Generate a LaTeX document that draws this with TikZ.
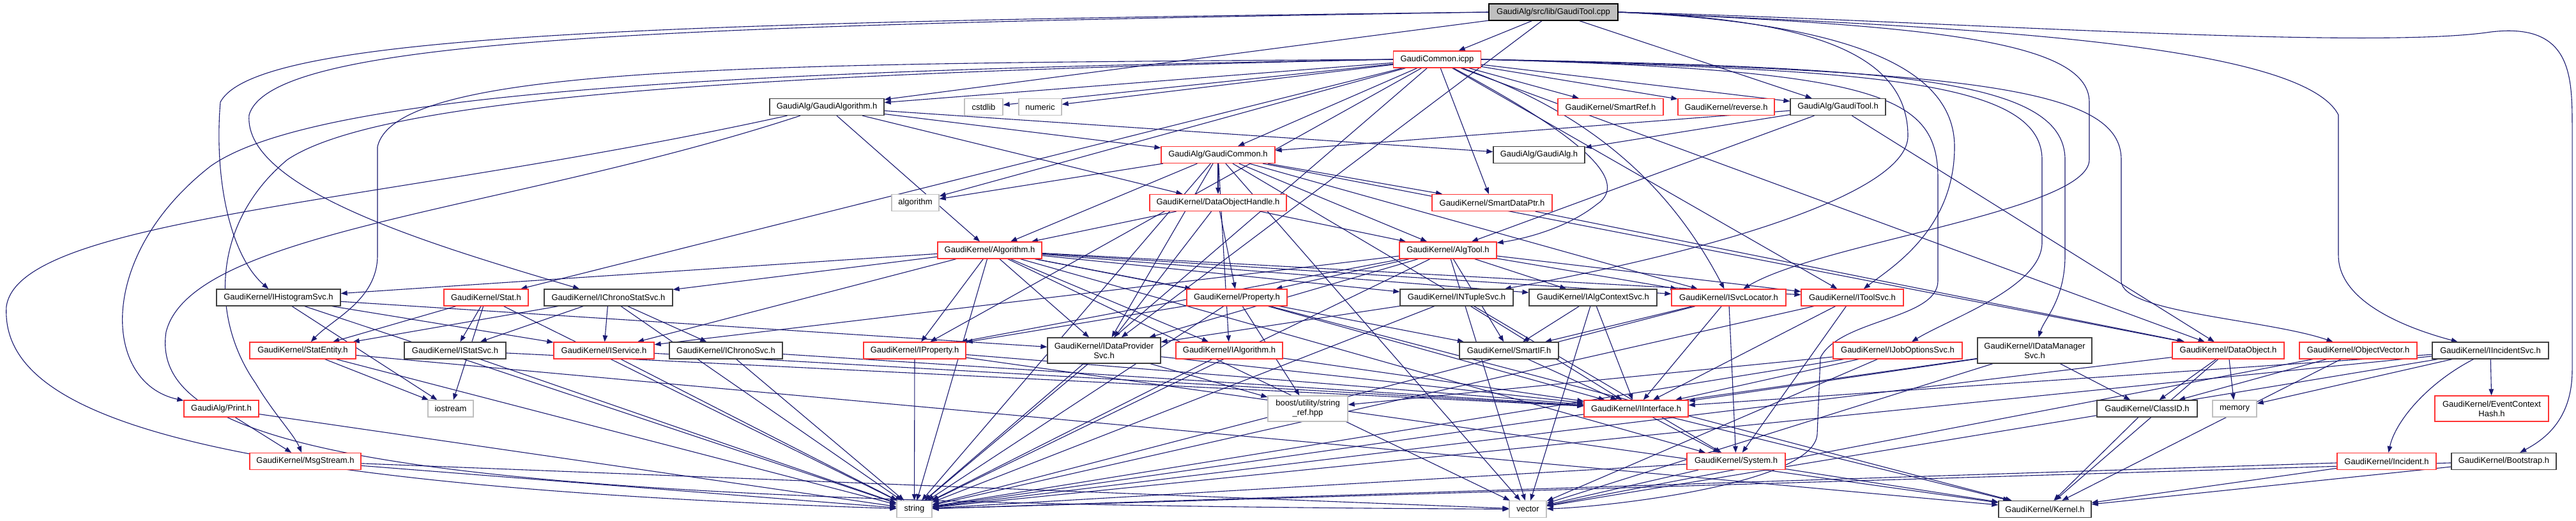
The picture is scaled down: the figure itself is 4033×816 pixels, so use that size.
\documentclass[tikz,border=0pt]{standalone}
\usepackage{fontspec}
\setmainfont{Liberation Sans}
\usetikzlibrary{arrows.meta}
\pgfdeclarelayer{back}
\pgfdeclarelayer{bg}
\pgfsetlayers{back,bg,main}
\definecolor{edgec}{HTML}{191970}
\definecolor{redc}{HTML}{FF3333}
\definecolor{blkc}{HTML}{404040}
\definecolor{grayc}{HTML}{BFBFBF}
\definecolor{rootfill}{HTML}{BFBFBF}
\newcommand\mknode[6]{\node[#2,minimum width=#5pt] (#1) at (#3,#4) {#6};}
\newcommand\deplinks[2]{\foreach \t in {#2} {\draw[edge] (#1) -- (\t);}}
\begin{document}
\begin{tikzpicture}[x=1pt,y=-1pt,
  base/.style={rectangle, line width=1.3pt, minimum height=26pt, inner xsep=2pt, inner ysep=1pt,
    font=\fontsize{13}{15}\selectfont, align=center, fill=white},
  redbox/.style={base, draw=redc},
  blkbox/.style={base, draw=blkc},
  sysbox/.style={base, draw=grayc},
  rootbox/.style={base, draw=black, fill=rootfill},
  tall/.style={minimum height=40pt},
  edge/.style={draw=edgec, line width=1.1pt, -{Triangle[length=10pt,width=7.5pt]}}]
\useasboundingbox (0,0) rectangle (4033,816);
\begin{pgfonlayer}{back}
\fill[white] (0,0) rectangle (4033,816);
\end{pgfonlayer}
% nodes
\mknode{cpp}{rootbox}{2432}{19}{202}{GaudiAlg/src/lib/GaudiTool.cpp}
\mknode{icpp}{redbox}{2250}{93}{137}{GaudiCommon.icpp}
\mknode{galgoh}{blkbox}{1294.5}{167.5}{179}{GaudiAlg/GaudiAlgorithm.h}
\mknode{cstdlib}{sysbox}{1540}{167.5}{60}{cstdlib}
\mknode{numeric}{sysbox}{1628.5}{167.5}{67}{numeric}
\mknode{smartref}{redbox}{2521.5}{167.5}{165}{GaudiKernel/SmartRef.h}
\mknode{reverse}{redbox}{2702.5}{167.5}{151}{GaudiKernel/reverse.h}
\mknode{gtoolh}{blkbox}{2877.5}{167.5}{149}{GaudiAlg/GaudiTool.h}
\mknode{gcommonh}{redbox}{1907}{242.5}{178}{GaudiAlg/GaudiCommon.h}
\mknode{galgh}{blkbox}{2409.5}{242.5}{143}{GaudiAlg/GaudiAlg.h}
\mknode{algorithm}{sysbox}{1433}{317.5}{74}{algorithm}
\mknode{dataobjhandle}{redbox}{1907}{317.5}{214}{GaudiKernel/DataObjectHandle.h}
\mknode{smartdataptr}{redbox}{2336}{317.5}{188}{GaudiKernel/SmartDataPtr.h}
\mknode{algorithmh}{redbox}{1549.5}{392}{163}{GaudiKernel/Algorithm.h}
\mknode{algtool}{redbox}{2267}{392}{152}{GaudiKernel/AlgTool.h}
\mknode{ihist}{blkbox}{436}{466}{194}{GaudiKernel/IHistogramSvc.h}
\mknode{stat}{redbox}{761}{466}{132}{GaudiKernel/Stat.h}
\mknode{ichronostat}{blkbox}{952.5}{466}{201}{GaudiKernel/IChronoStatSvc.h}
\mknode{property}{redbox}{1936.5}{466}{157}{GaudiKernel/Property.h}
\mknode{intuple}{blkbox}{2280.5}{466}{177}{GaudiKernel/INTupleSvc.h}
\mknode{ialgctx}{blkbox}{2494}{466}{200}{GaudiKernel/IAlgContextSvc.h}
\mknode{isvcloc}{redbox}{2706.5}{466}{179}{GaudiKernel/ISvcLocator.h}
\mknode{itoolsvc}{redbox}{2900}{466}{160}{GaudiKernel/IToolSvc.h}
\mknode{statentity}{redbox}{474}{549}{166}{GaudiKernel/StatEntity.h}
\mknode{istatsvc}{blkbox}{712.5}{549}{159}{GaudiKernel/IStatSvc.h}
\mknode{iservice}{redbox}{945.5}{549}{157}{GaudiKernel/IService.h}
\mknode{ichronosvc}{blkbox}{1136.5}{549}{177}{GaudiKernel/IChronoSvc.h}
\mknode{iproperty}{redbox}{1432}{549}{160}{GaudiKernel/IProperty.h}
\mknode{idataprov}{blkbox,tall}{1728.5}{549}{177}{GaudiKernel/IDataProvider\\Svc.h}
\mknode{ialgorithm}{redbox}{1924.5}{549}{167}{GaudiKernel/IAlgorithm.h}
\mknode{smartif}{blkbox}{2362.5}{549}{155}{GaudiKernel/SmartIF.h}
\mknode{ijobopt}{redbox}{2971}{549}{202}{GaudiKernel/IJobOptionsSvc.h}
\mknode{idatamgr}{blkbox,tall}{3185.5}{549}{179}{GaudiKernel/IDataManager\\Svc.h}
\mknode{dataobject}{redbox}{3488.5}{549}{175}{GaudiKernel/DataObject.h}
\mknode{objvector}{redbox}{3692}{549}{184}{GaudiKernel/ObjectVector.h}
\mknode{iincident}{blkbox}{3899}{549}{182}{GaudiKernel/IIncidentSvc.h}
\mknode{printh}{redbox}{346.5}{640}{117}{GaudiAlg/Print.h}
\mknode{iostream}{sysbox}{705.5}{640}{71}{iostream}
\mknode{boost}{sysbox,tall}{2047.5}{640}{125}{boost/utility/string\\\_ref.hpp}
\mknode{iinterface}{redbox}{2561.5}{640}{163}{GaudiKernel/IInterface.h}
\mknode{classid}{blkbox}{3361.5}{640}{157}{GaudiKernel/ClassID.h}
\mknode{memory}{sysbox}{3498.5}{640}{69}{memory}
\mknode{evctxhash}{redbox,tall}{3901}{640}{178}{GaudiKernel/EventContext\\Hash.h}
\mknode{msgstream}{redbox}{478}{722.5}{174}{GaudiKernel/MsgStream.h}
\mknode{systemh}{redbox}{2718}{722.5}{154}{GaudiKernel/System.h}
\mknode{incident}{redbox}{3736.5}{722.5}{155}{GaudiKernel/Incident.h}
\mknode{bootstrap}{blkbox}{3920}{722.5}{164}{GaudiKernel/Bootstrap.h}
\mknode{string}{sysbox}{1431.5}{797.5}{55}{string}
\mknode{vector}{sysbox}{2392}{797.5}{58}{vector}
\mknode{kernel}{blkbox}{3201.5}{797.5}{145}{GaudiKernel/Kernel.h}
% edges
\begin{pgfonlayer}{bg}
\deplinks{cpp}{icpp,gtoolh,galgoh,idataprov}
\draw[edge] (cpp.west) .. controls (1000,35) and (400,55) .. (345,160) .. controls (335,280) and (360,400) .. (ihist);
\draw[edge] (cpp.west) .. controls (1000,40) and (425,62) .. (390,180) .. controls (380,300) and (700,390) .. (ichronostat);
\draw[edge] (cpp.east) .. controls (3000,40) and (3600,60) .. (3661,180) -- (3661,400) .. controls (3661,480) and (3790,520) .. (iincident);
\draw[edge] (cpp.east) .. controls (3000,30) and (3700,80) .. (3900,50) .. controls (4027,35) and (4027,120) .. (4027,200) -- (4027,580) .. controls (4027,660) and (3980,690) .. (bootstrap);
\draw[edge] (cpp.east) .. controls (3000,40) and (3271,60) .. (3271,160) -- (3271,250) .. controls (3271,330) and (2850,380) .. (isvcloc);
\draw[edge] (cpp.east) .. controls (2850,30) and (2987,90) .. (2987,213) .. controls (2987,300) and (2700,390) .. (intuple);
\draw[edge] (cpp.east) .. controls (2880,35) and (3060,100) .. (3060,230) .. controls (3060,360) and (2960,420) .. (itoolsvc);
\deplinks{icpp}{cstdlib,numeric,smartref,reverse,gtoolh,gcommonh,algorithm,smartdataptr,stat,iproperty,itoolsvc,string,galgoh,dataobject}
\draw[edge] (icpp) .. controls (2500,180) and (2620,300) .. (isvcloc);
\draw[edge] (icpp) .. controls (2450,200) and (2560,280) .. (2500,320) .. controls (2450,360) and (2380,375) .. (algtool);
\draw[edge] (icpp.east) .. controls (2900,110) and (3197,120) .. (3197,250) -- (3197,380) .. controls (3197,450) and (3050,500) .. (ijobopt);
\draw[edge] (icpp.east) .. controls (2950,105) and (3233,120) .. (3233,250) -- (3233,400) .. controls (3233,470) and (3200,500) .. (idatamgr);
\draw[edge] (icpp.east) .. controls (2950,110) and (3034,150) .. (3034,280) -- (3034,440) .. controls (3034,500) and (2880,500) .. (2850,560) -- (2845,680) .. controls (2840,760) and (2500,795) .. (vector);
\draw[edge] (icpp.east) .. controls (3100,110) and (3321,140) .. (3321,250) -- (3321,440) .. controls (3321,490) and (3550,500) .. (objvector);
\draw[edge] (icpp.west) .. controls (1200,100) and (620,100) .. (591,230) -- (591,400) .. controls (591,470) and (520,500) .. (statentity);
\draw[edge] (icpp.west) .. controls (1200,110) and (500,140) .. (330,260) .. controls (150,400) and (160,600) .. (printh);
\draw[edge] (icpp.west) .. controls (1200,115) and (600,150) .. (450,250) .. controls (330,350) and (330,500) .. (400,600) .. controls (430,650) and (460,680) .. (msgstream);
\deplinks{galgoh}{gcommonh,galgh,algorithmh,dataobjhandle}
\draw[edge] (galgoh) .. controls (600,320) and (30,340) .. (10,480) .. controls (0,650) and (300,760) .. (string);
\draw[edge] (galgoh) .. controls (800,330) and (300,360) .. (260,520) .. controls (230,720) and (700,790) .. (vector);
\deplinks{gtoolh}{gcommonh,galgh,algtool,dataobject}
\deplinks{gcommonh}{algorithm,dataobjhandle,smartdataptr,algtool,algorithmh,ialgorithm,idataprov,systemh,string,vector,dataobject,isvcloc}
\deplinks{dataobjhandle}{algorithmh,algtool,property,idataprov}
\deplinks{smartdataptr}{dataobject}
\deplinks{algorithmh}{iproperty,ialgorithm,iservice,idataprov,ihist,intuple,ichronostat,ialgctx,isvcloc,itoolsvc,smartif,property,string,vector,systemh}
\deplinks{algtool}{iproperty,property,isvcloc,itoolsvc,iservice,idataprov,smartif,ialgctx,string,vector}
\deplinks{ihist}{iservice,idataprov,iostream,string}
\deplinks{stat}{statentity,istatsvc,string,iostream}
\deplinks{ichronostat}{iservice,ichronosvc,istatsvc,statentity,string}
\deplinks{property}{iproperty,boost,string,iinterface,kernel}
\deplinks{intuple}{idataprov,string,iinterface}
\deplinks{ialgctx}{smartif,vector,iinterface}
\deplinks{isvcloc}{smartif,iinterface,systemh,string}
\deplinks{itoolsvc}{iinterface,systemh,string}
\deplinks{iincident}{iinterface,memory,string,vector,evctxhash}
\draw[edge] (iincident) .. controls (3800,600) and (3750,660) .. (incident);
\deplinks{statentity}{iostream,string,kernel}
\deplinks{istatsvc}{iinterface,string}
\deplinks{iservice}{iinterface,string}
\deplinks{ichronosvc}{iinterface,string}
\deplinks{iproperty}{string,iinterface,kernel}
\deplinks{idataprov}{string,boost,iinterface}
\deplinks{ialgorithm}{string,iinterface}
\deplinks{smartif}{iinterface}
\deplinks{ijobopt}{iinterface,string,vector,boost}
\deplinks{idatamgr}{iinterface,classid,string,vector}
\deplinks{dataobject}{classid,memory,string,kernel}
\deplinks{objvector}{classid,kernel,vector}
\deplinks{printh}{msgstream,string}
\deplinks{msgstream}{string,vector}
\deplinks{iinterface}{systemh,kernel}
\deplinks{classid}{kernel}
\deplinks{systemh}{kernel,string,vector}
\deplinks{incident}{string,kernel}
\deplinks{bootstrap}{kernel,string}
\end{pgfonlayer}
\end{tikzpicture}
\end{document}
